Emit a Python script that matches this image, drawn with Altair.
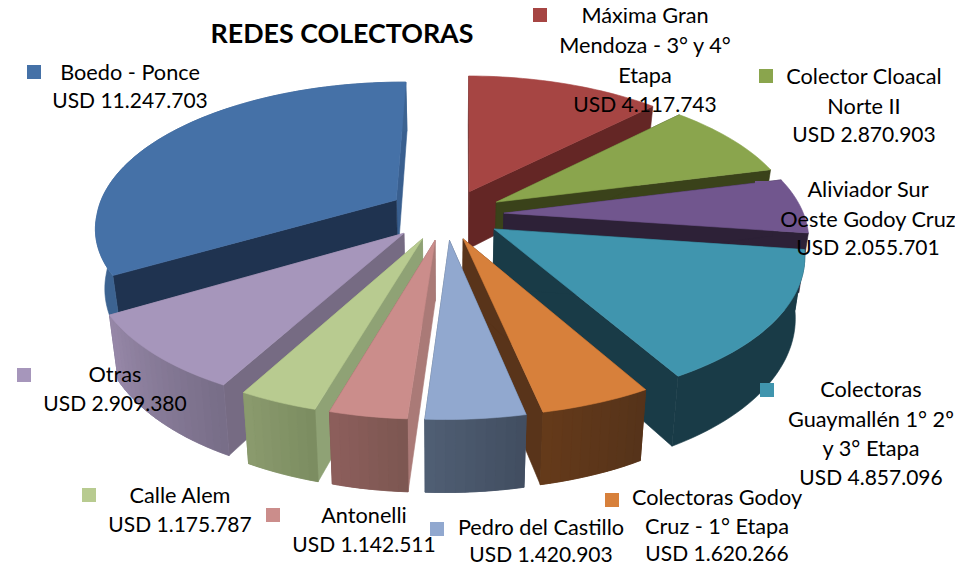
import math
import altair as alt
import pandas as pd

# ---- data ----
categories = ["Máxima Gran Mendoza - 3° y 4° Etapa", "Colector Cloacal Norte II",
              "Aliviador Sur Oeste Godoy Cruz", "Colectoras Guaymallén 1° 2º y 3° Etapa",
              "Colectoras Godoy Cruz - 1° Etapa", "Pedro del Castillo", "Antonelli",
              "Calle Alem", "Otras", "Boedo - Ponce"]
values = [4117743, 2870903, 2055701, 4857096, 1620266, 1420903, 1142511, 1175787, 2909380, 11247703]
label_lines = [["Máxima Gran", "Mendoza - 3° y 4°", "Etapa"], ["Colector Cloacal", "Norte II"],
               ["Aliviador Sur", "Oeste Godoy Cruz"], ["Colectoras", "Guaymallén 1° 2º", "y 3° Etapa"],
               ["Colectoras Godoy", "Cruz - 1° Etapa"], ["Pedro del Castillo"], ["Antonelli"],
               ["Calle Alem"], ["Otras"], ["Boedo - Ponce"]]
explode = [0.18, 0.18, 0.18, 0.18, 0.18, 0.18, 0.18, 0.18, 0.18, 0.21]
slice_dx = [-1, 0, 0, -1, -6, -4, -5, -6, -7, 0]
has_outer_wall = [False, False, False, True, True, True, True, True, True, True]

# ---- styles ----
top_col = ["#A64543", "#8AA54D", "#71568E", "#4095AE", "#D7803B", "#91A8CF", "#CB8D8B", "#B8CB90", "#A696BB", "#4571A7"]
start_col = ["#642625", "#3A421A", "#2D2137", "#193B47", "#59341A", "#414D60", "#AA7A77", "#8FA275", "#766B83", "#1F3350"]
end_col = ["#642625", "#3A421A", "#2D2137", "#193B47", "#59341A", "#505F74", "#8D5F5C", "#8B9B6E", "#9788A8", "#395F8F"]
outer_a = ["#642625", "#3A421A", "#2D2137", "#193B47", "#55331A", "#414D60", "#7C5651", "#7B8C60", "#776D87", "#3C6391"]
outer_b = ["#642625", "#3A421A", "#2D2137", "#193B47", "#653A1A", "#505F74", "#8D5F5C", "#8B9B6E", "#9788A8", "#3C6391"]
key_col = top_col
key_x = [540, 766, 762, 767, 612, 437, 273, 89, 24, 34]
key_y = [15, 76, 188, 390, 500, 529, 515, 495, 375, 72]
label_x = [645, 864, 868, 871, 717, 541, 364, 180, 115, 130]
label_y = [16, 77, 190, 390, 498, 528, 516, 496, 375, 73]
line_step = [30, 29.7, 29.5, 29.5, 28.5, 27.5, 29.5, 29.7, 29.5, 28.5]

FONT = "Lato"
K, CX, FIRST, SHEAR = 0.16, 450, 0.5, 7
PLANES = {"top": (300, 214.5, 141), "bot": (292, 273, 151)}


def proj(u, v, plane, dx=0):
    a, c, b = PLANES[plane]
    s = 1 + K * v
    w = max(0.0, min(1.0, 0.8 - 1.6 * u))
    return CX + dx + SHEAR * w * min(v, 0) + a * u / s, c - b * v / s


def mix(c0, c1, t):
    p = [int(c0[i:i + 2], 16) * (1 - t) + int(c1[i:i + 2], 16) * t for i in (1, 3, 5)]
    return "#%02X%02X%02X" % tuple(int(round(x)) for x in p)


total = sum(values)
slices = []
acc = FIRST
for i, val in enumerate(values):
    a0 = acc
    a1 = acc + 360 * val / total
    acc = a1
    m = math.radians((a0 + a1) / 2)
    slices.append((i, a0, a1, explode[i] * math.sin(m), explode[i] * math.cos(m)))

rows = []
part = [0]


def add_poly(pts, color):
    part[0] += 1
    pts = pts + [pts[0]]
    for j, (x, y) in enumerate(pts):
        rows.append({"x": x, "y": y, "part": part[0], "seq": j, "color": color})


for i, a0, a1, u0, v0 in sorted(slices, key=lambda s: -s[4]):
    dx = slice_dx[i]

    def rim(angle):
        r = math.radians(angle)
        return u0 + math.sin(r), v0 + math.cos(r)

    for angle, col in ((a1, end_col[i]), (a0, start_col[i])):
        u, v = rim(angle)
        add_poly([proj(u0, v0, "top", dx), proj(u, v, "top", dx), proj(u, v, "bot", dx), proj(u0, v0, "bot", dx)], col)
    n = max(2, int((a1 - a0) / 1.5))
    angs = [a0 + (a1 - a0) * j / n for j in range(n + 1)]
    if has_outer_wall[i]:
        # whole outer wall as one base shape, so the shaded strips leave no seams
        add_poly([proj(*rim(t), "top", dx) for t in angs] + [proj(*rim(t), "bot", dx) for t in reversed(angs)],
                 mix(outer_a[i], outer_b[i], 0.5))
        if outer_a[i] != outer_b[i]:
            for j in range(n):
                seg = [angs[j], angs[j + 1]]
                add_poly([proj(*rim(t), "top", dx) for t in seg] + [proj(*rim(t), "bot", dx) for t in reversed(seg)],
                         mix(outer_a[i], outer_b[i], (j + 0.5) / n))
    add_poly([proj(u0, v0, "top", dx)] + [proj(*rim(t), "top", dx) for t in angs], top_col[i])

X = alt.Scale(domain=[8, 955], range=[0, 947])
Y = alt.Scale(domain=[8, 563], range=[0, 555])

pie = alt.Chart(pd.DataFrame(rows)).mark_line(strokeWidth=0.6, interpolate="linear").encode(
    x=alt.X("x:Q", scale=X, axis=None),
    y=alt.Y("y:Q", scale=Y, axis=None),
    fill=alt.Fill("color:N", scale=None, legend=None),
    stroke=alt.Stroke("color:N", scale=None, legend=None),
    detail="part:N",
    order="seq:Q",
)

keys = alt.Chart(pd.DataFrame({"x": key_x, "y": key_y, "c": key_col})).mark_square(size=196, opacity=1, filled=True).encode(
    x=alt.X("x:Q", scale=X, axis=None),
    y=alt.Y("y:Q", scale=Y, axis=None),
    color=alt.Color("c:N", scale=None, legend=None),
)

text_rows = []
for i, lines in enumerate(label_lines):
    full = lines + ["USD " + f"{values[i]:,}".replace(",", ".")]
    for j, t in enumerate(full):
        text_rows.append({"x": label_x[i], "y": label_y[i] + j * line_step[i], "t": t,
                          "fs": 21 if t.startswith("USD") else 21.7})

labels = alt.Chart(pd.DataFrame(text_rows)).mark_text(
    font=FONT, align="center", baseline="middle", color="#000000"
).encode(
    x=alt.X("x:Q", scale=X, axis=None),
    y=alt.Y("y:Q", scale=Y, axis=None),
    text="t:N",
    size=alt.Size("fs:Q", scale=None, legend=None),
)

title = alt.Chart(pd.DataFrame({"x": [342], "y": [35], "t": ["REDES COLECTORAS"]})).mark_text(
    font=FONT, fontSize=26.8, fontWeight="bold", align="center", baseline="middle", color="#000000"
).encode(
    x=alt.X("x:Q", scale=X, axis=None),
    y=alt.Y("y:Q", scale=Y, axis=None),
    text="t:N",
)

chart = alt.layer(pie, keys, title, labels).properties(
    width=947, height=555, padding=0, background="#FFFFFF",
    autosize=alt.AutoSizeParams(type="none"),
).configure_view(stroke=None)

chart.save("out.html", embed_options={"renderer": "svg", "actions": False})
